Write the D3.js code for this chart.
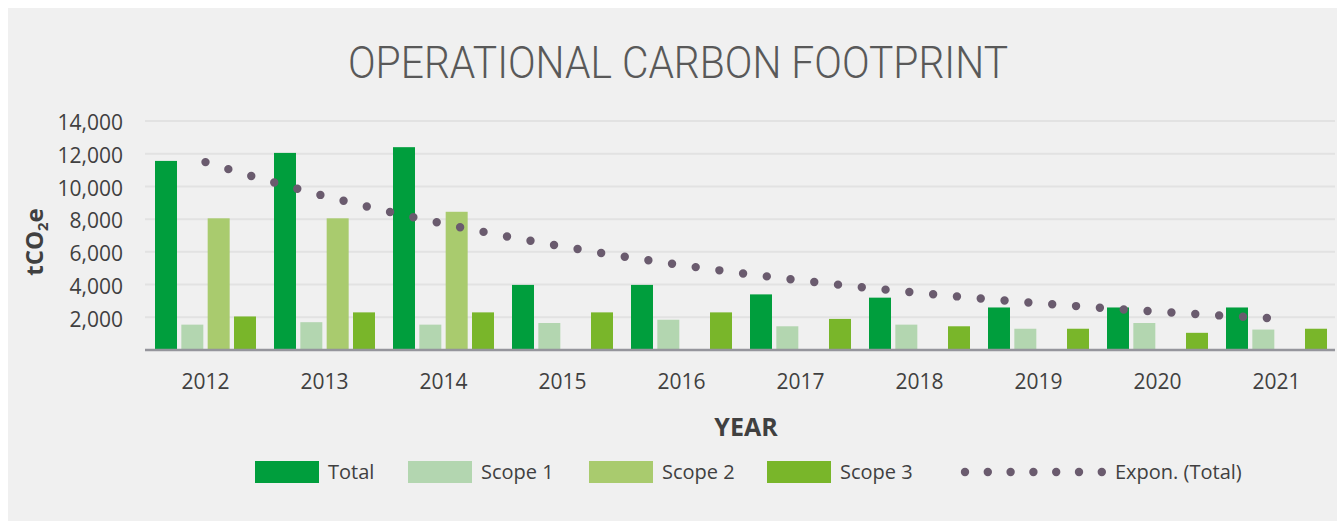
<!DOCTYPE html>
<html>
<head>
<meta charset="utf-8">
<script src="https://cdn.jsdelivr.net/npm/d3@7"></script>
<style>
  html, body { margin: 0; padding: 0; background: #ffffff; }
  svg { display: block; }
</style>
</head>
<body>
<svg id="chart" width="1337" height="521"></svg>
<script>
// ---- data ----
const years  = ["2012","2013","2014","2015","2016","2017","2018","2019","2020","2021"];
const total  = [11560, 12050, 12400, 3980, 3980, 3400, 3200, 2600, 2600, 2600];
const scope1 = [1550, 1700, 1550, 1650, 1850, 1450, 1550, 1300, 1650, 1250];
const scope2 = [8050, 8050, 8450, 0, 0, 0, 0, 0, 0, 0];
const scope3 = [2050, 2300, 2300, 2300, 2300, 1900, 1450, 1300, 1050, 1300];
const seriesNames = ["Total", "Scope 1", "Scope 2", "Scope 3"];
const trendName = "Expon. (Total)";
const yTickValues = [2000, 4000, 6000, 8000, 10000, 12000, 14000];
const titleText = "OPERATIONAL CARBON FOOTPRINT";
const xTitle = "YEAR";

const colors = { "Total": "#009e3d", "Scope 1": "#b3d6b0", "Scope 2": "#a9cb6e", "Scope 3": "#79b62a" };
const trendColor = "#6a5b6e";

const seriesValues = { "Total": total, "Scope 1": scope1, "Scope 2": scope2, "Scope 3": scope3 };

const svg = d3.select("#chart");
const font = "'Open Sans', 'Noto Sans', sans-serif";

// background
svg.append("rect").attr("x", 8).attr("y", 8).attr("width", 1337 - 8).attr("height", 521 - 8).attr("fill", "#f0f0f0");

// scales
const plotLeft = 146, plotRight = 1336, yBase = 350, yTop = 121;
const x0 = d3.scaleBand().domain(years).range([plotLeft, plotRight]).paddingInner(18 / 119).paddingOuter(9 / 119);
const x1 = d3.scaleBand().domain(seriesNames).range([0, x0.bandwidth()]).paddingInner(0.165).paddingOuter(0);
const y = d3.scaleLinear().domain([0, 14000]).range([yBase, yTop]);

// gridlines
const grid = svg.append("g");
grid.selectAll("line").data(yTickValues).join("line")
  .attr("x1", 145).attr("x2", 1335)
  .attr("y1", d => y(d)).attr("y2", d => y(d))
  .attr("stroke", "#e2e2e2").attr("stroke-width", 2);

// y axis labels via d3 axis
const yAxis = d3.axisLeft(y).tickValues(yTickValues).tickFormat(d3.format(",")).tickSize(0).tickPadding(0);
const gy = svg.append("g").attr("transform", "translate(123,0)").call(yAxis);
gy.select(".domain").remove();
gy.selectAll("text").attr("font-family", font).attr("font-size", 21).attr("fill", "#404040").attr("dy", "0.42em");

// bars
const rows = years.map((yr, i) => ({ year: yr, vals: seriesNames.map(s => ({ key: s, value: seriesValues[s][i] })) }));
const groups = svg.append("g").selectAll("g").data(rows).join("g")
  .attr("transform", d => `translate(${x0(d.year)},0)`);
groups.selectAll("rect").data(d => d.vals.filter(v => v.value > 0)).join("rect")
  .attr("x", d => x1(d.key))
  .attr("width", x1.bandwidth())
  .attr("y", d => y(d.value))
  .attr("height", d => yBase - y(d.value))
  .attr("fill", d => colors[d.key]);

// baseline axis
const xAxis = d3.axisBottom(x0).tickSize(0).tickPadding(0);
const gx = svg.append("g").attr("transform", `translate(0,${yBase})`).call(xAxis);
gx.select(".domain").remove();
gx.selectAll("text").attr("font-family", font).attr("font-size", 21).attr("fill", "#404040").attr("dy", "39px");
svg.append("line").attr("x1", 145).attr("x2", 1335).attr("y1", yBase).attr("y2", yBase)
  .attr("stroke", "#95959c").attr("stroke-width", 2.6);

// exponential trendline of Total (least squares on ln values, as in spreadsheet trendlines)
const idx = years.map((_, i) => i + 1);
const lnT = total.map(v => Math.log(v));
const mx = d3.mean(idx), my = d3.mean(lnT);
const b = d3.sum(idx, (xv, i) => (xv - mx) * (lnT[i] - my)) / d3.sum(idx, xv => (xv - mx) * (xv - mx));
const a = Math.exp(my - b * mx);
const xc = d3.scaleLinear().domain([1, years.length]).range([x0(years[0]) + x0.bandwidth() / 2, x0(years[years.length - 1]) + x0.bandwidth() / 2]);
const trendPts = d3.range(1, years.length + 0.001, 0.05).map(t => [xc(t), y(a * Math.exp(b * t))]);
svg.append("path")
  .attr("d", d3.line()(trendPts))
  .attr("fill", "none")
  .attr("stroke", trendColor)
  .attr("stroke-width", 8.4)
  .attr("stroke-linecap", "round")
  .attr("stroke-dasharray", "0 23.9");

// title
svg.append("text").attr("x", 678).attr("y", 78).attr("text-anchor", "middle")
  .attr("font-family", "Roboto, sans-serif").attr("font-weight", 300).attr("font-size", 44)
  .attr("fill", "#595959").attr("textLength", 660).attr("lengthAdjust", "spacingAndGlyphs")
  .text(titleText);

// axis titles
svg.append("text").attr("x", 746).attr("y", 436).attr("text-anchor", "middle")
  .attr("font-family", font).attr("font-weight", 700).attr("font-size", 25).attr("fill", "#404040")
  .text(xTitle);

const yt = svg.append("text").attr("transform", "translate(43,242) rotate(-90)").attr("text-anchor", "middle")
  .attr("font-family", font).attr("font-weight", 700).attr("font-size", 24).attr("fill", "#404040");
yt.append("tspan").text("tCO");
yt.append("tspan").attr("font-size", 15).attr("dy", 5).text("2");
yt.append("tspan").attr("dy", -5).text("e");

// legend
const legendX = { "Total": 255, "Scope 1": 408, "Scope 2": 589, "Scope 3": 767 };
const lg = svg.append("g");
seriesNames.forEach(s => {
  lg.append("rect").attr("x", legendX[s]).attr("y", 461).attr("width", 64).attr("height", 22).attr("fill", colors[s]);
  lg.append("text").attr("x", legendX[s] + 73).attr("y", 479)
    .attr("font-family", font).attr("font-size", 20).attr("fill", "#404040").text(s);
});
lg.selectAll("circle.ld").data(d3.range(7)).join("circle")
  .attr("cx", d => 965 + d * 22.8).attr("cy", 472).attr("r", 4.2).attr("fill", trendColor);
lg.append("text").attr("x", 1115).attr("y", 479)
  .attr("font-family", font).attr("font-size", 20).attr("fill", "#404040").text(trendName);
</script>
</body>
</html>
